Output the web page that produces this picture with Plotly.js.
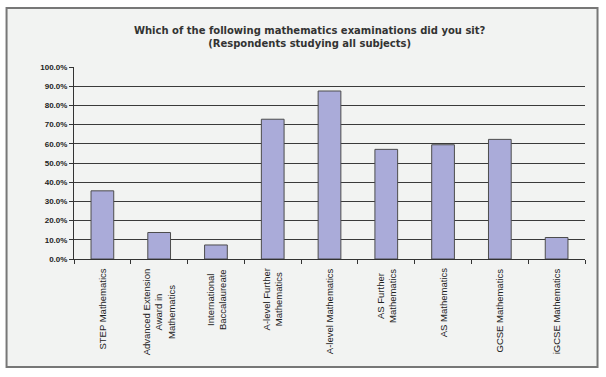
<!DOCTYPE html>
<html>
<head>
<meta charset="utf-8">
<script src="https://cdn.plot.ly/plotly-3.0.1.min.js"></script>
<style>html,body{margin:0;padding:0;background:#fff;}</style>
</head>
<body>
<div id="chart" style="width:606px;height:377px;"></div>
<script>
var categories = [
  "STEP Mathematics",
  "Advanced Extension Award in Mathematics",
  "International Baccalaureate",
  "A-level Further Mathematics",
  "A-level Mathematics",
  "AS Further Mathematics",
  "AS Mathematics",
  "GCSE Mathematics",
  "iGCSE Mathematics"
];
var tickLabels = [
  "STEP Mathematics",
  "Advanced Extension<br>Award in<br>Mathematics",
  "International<br>Baccalaureate",
  "A-level Further<br>Mathematics",
  "A-level Mathematics",
  "AS Further<br>Mathematics",
  "AS Mathematics",
  "GCSE Mathematics",
  "iGCSE Mathematics"
];
var values = [0.355, 0.138, 0.073, 0.728, 0.875, 0.571, 0.595, 0.623, 0.112];
var titleText = "Which of the following mathematics examinations did you sit?<br>(Respondents studying all subjects)";

var trace = {
  type: "bar",
  x: categories,
  y: values,
  marker: {color: "#aaabd9", line: {color: "#4d4d4d", width: 1}},
  hoverinfo: "none"
};

var annotations = categories.map(function (c, i) {
  return {
    xref: "x", yref: "paper",
    x: c, y: -0.04,
    xanchor: "center", yanchor: "top",
    text: tickLabels[i],
    textangle: -90,
    align: "center",
    showarrow: false,
    font: {family: "Liberation Sans, Arial, sans-serif", size: 9.5, color: "#222"}
  };
});

var layout = {
  width: 606,
  height: 377,
  margin: {l: 74, r: 21, t: 67, b: 118},
  paper_bgcolor: "#ffffff",
  plot_bgcolor: "rgba(0,0,0,0)",
  showlegend: false,
  bargap: 0.6,
  font: {family: "Liberation Sans, Arial, sans-serif", color: "#222"},
  title: {
    text: titleText,
    font: {family: "DejaVu Sans, sans-serif", size: 10, weight: "bold", color: "#333"},
    x: 0.511, xref: "container", xanchor: "center",
    y: 0.91, yanchor: "top", yref: "container"
  },
  xaxis: {
    type: "category",
    showline: true, linecolor: "#333", linewidth: 1,
    ticks: "outside", ticklen: 4, tickcolor: "#333",
    tickson: "boundaries",
    showticklabels: false,
    showgrid: false
  },
  yaxis: {
    range: [0, 1],
    dtick: 0.1,
    tickformat: ".1%",
    showline: true, linecolor: "#333", linewidth: 1,
    ticks: "outside", ticklen: 4, tickcolor: "#333",
    tickfont: {size: 8, weight: "bold", color: "#222"},
    showgrid: true, gridcolor: "#3a3a3a", gridwidth: 1,
    zeroline: false
  },
  annotations: annotations,
  shapes: [{
    type: "rect", xref: "paper", yref: "paper",
    x0: -0.132, x1: 1.0245, y0: -0.5625, y1: 1.307,
    fillcolor: "#f2f3f2",
    line: {color: "#777777", width: 2},
    layer: "below"
  }]
};

Plotly.newPlot("chart", [trace], layout, {displayModeBar: false, staticPlot: true});
</script>
</body>
</html>
